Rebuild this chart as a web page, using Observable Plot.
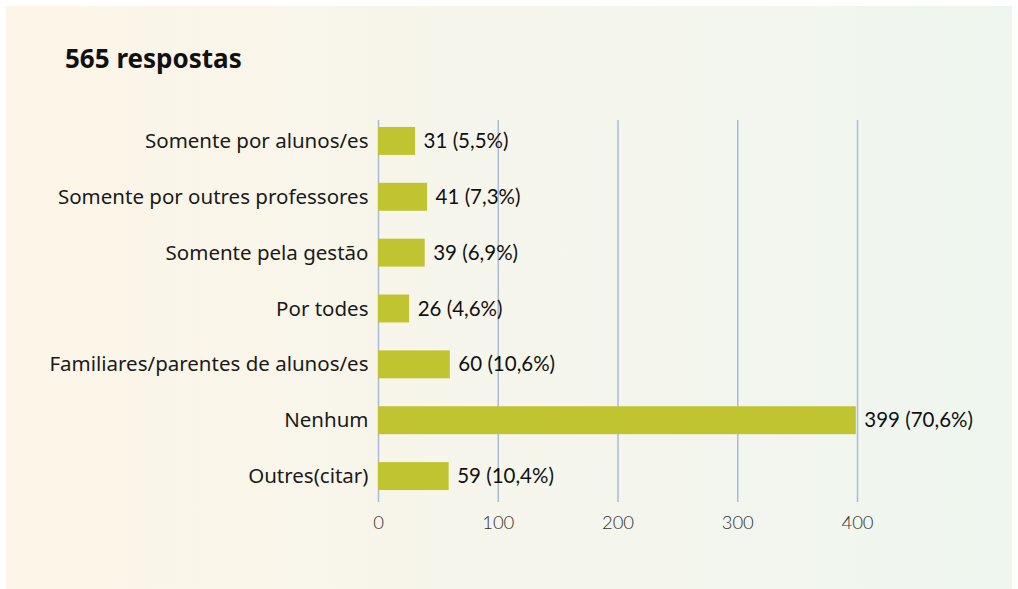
<!DOCTYPE html>
<html><head><meta charset="utf-8">
<script src="https://cdn.jsdelivr.net/npm/d3@7"></script>
<script src="https://cdn.jsdelivr.net/npm/@observablehq/plot@0.6"></script>
<style>
html,body{margin:0;padding:0;background:#fff;overflow:hidden;}
#card{position:absolute;left:6px;top:6px;width:1006px;height:583px;background:linear-gradient(to right,#fdf5e8,#eef6ef);}
#title{position:absolute;left:65px;top:43px;font-family:"Noto Sans",sans-serif;font-weight:700;font-size:26px;color:#111;margin:0;line-height:1.2;}
#chart{position:absolute;left:0;top:0;}
</style></head>
<body>
<div id="card"></div>
<div id="chart"></div>
<h1 id="title">565 respostas</h1>
<script>
const categories = ["Somente por alunos/es","Somente por outres professores","Somente pela gestão","Por todes","Familiares/parentes de alunos/es","Nenhum","Outres(citar)"];
const counts = [31,41,39,26,60,399,59];
const percents = ["5,5%","7,3%","6,9%","4,6%","10,6%","70,6%","10,4%"];
const xTicks = [0,100,200,300,400];

const data = categories.map((c,i)=>({cat:c,value:counts[i],label:`${counts[i]} (${percents[i]})`}));

const chart = Plot.plot({
  width:1018, height:589,
  marginLeft:378, marginRight:161, marginTop:113, marginBottom:85,
  style:{background:"transparent", overflow:"visible"},
  x:{domain:[0,400], ticks:xTicks, label:null},
  y:{domain:categories, paddingInner:0.5, paddingOuter:0.25, round:false, label:null},
  marks:[
    Plot.ruleX(xTicks,{x:d=>d, stroke:"#a9bbdb", strokeWidth:1.5, insetTop:7, insetBottom:2}),
    Plot.barX(data,{y:"cat", x:"value", fill:"#c0c430"}),
    Plot.text(data,{y:"cat", x:"value", text:"label", textAnchor:"start", dx:8, fontSize:20.5, fill:"#111", fontFamily:"Lato, sans-serif"}),
    Plot.axisY({tickSize:0, tickPadding:10, fontSize:20.5, fill:"#1a1a1a", fontFamily:"'Noto Sans', sans-serif", label:null}),
    Plot.axisX({ticks:xTicks, tickSize:0, tickPadding:11, fontSize:18.5, fill:"#333", fontFamily:"Lato, sans-serif", fontWeight:300, label:null})
  ]
});
document.getElementById("chart").appendChild(chart);
</script>
</body></html>
